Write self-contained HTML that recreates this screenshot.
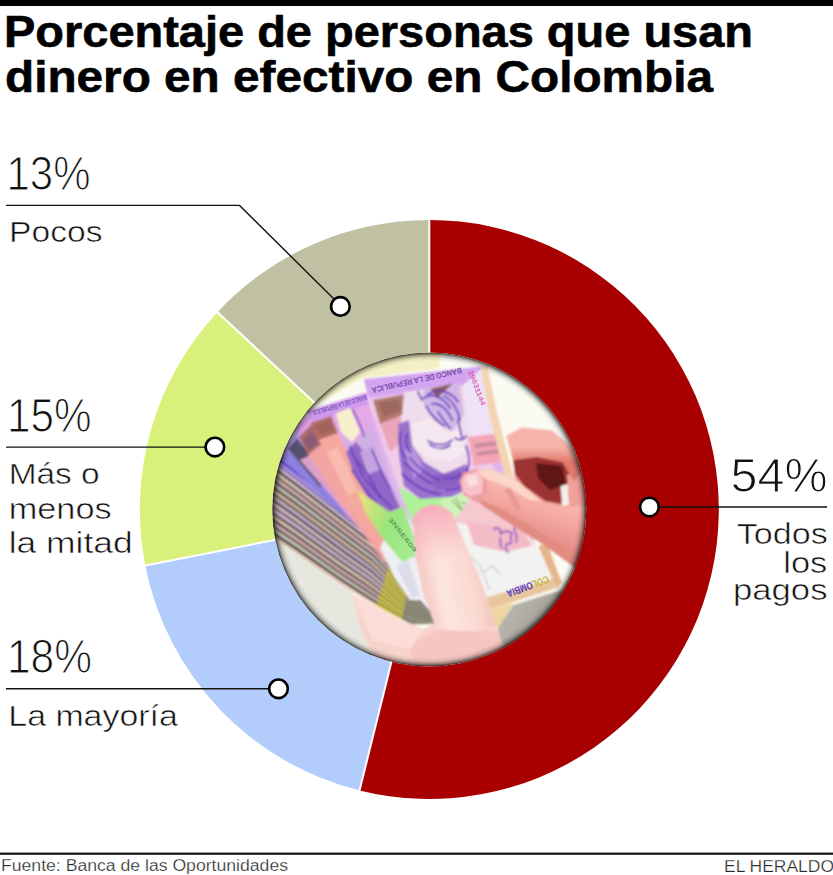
<!DOCTYPE html>
<html lang="es">
<head>
<meta charset="utf-8">
<title>Porcentaje de personas que usan dinero en efectivo en Colombia</title>
<style>
html,body{margin:0;padding:0;background:#fff;}
body{width:833px;height:875px;overflow:hidden;}
svg{display:block;}
text{font-family:"Liberation Sans",sans-serif;fill:#111;}
.t{font-weight:bold;font-size:44.5px;fill:#000;stroke:#000;stroke-width:.6px;}
.n{font-size:48px;stroke:#fff;stroke-width:1.1px;}
.l{font-size:30px;stroke:#fff;stroke-width:.55px;}
.f{font-size:16px;fill:#2a2a2a;stroke:#fff;stroke-width:.25px;}
.ld{stroke:#111;stroke-width:1.4;fill:none;}
.mk{fill:#fff;stroke:#000;stroke-width:2.6;}
</style>
</head>
<body>
<svg width="833" height="875" viewBox="0 0 833 875">
<rect width="833" height="875" fill="#fff"/>
<!-- top bar -->
<rect x="0" y="0" width="833" height="6" fill="#000"/>
<!-- title -->
<text class="t" x="4" y="46.8" textLength="749" lengthAdjust="spacingAndGlyphs">Porcentaje de personas que usan</text>
<text class="t" x="5" y="91.8" textLength="708" lengthAdjust="spacingAndGlyphs">dinero en efectivo en Colombia</text>
<!-- donut -->
<g id="donut">
<path d="M429.3,509.5 L429.30,220.00 A289.5,289.5 0 1 1 359.51,790.46 Z" fill="#a80000"/>
<path d="M429.3,509.5 L359.51,790.46 A289.5,289.5 0 0 1 145.26,565.48 Z" fill="#b2ccfc"/>
<path d="M429.3,509.5 L145.26,565.48 A289.5,289.5 0 0 1 217.40,312.25 Z" fill="#d9f17b"/>
<path d="M429.3,509.5 L217.40,312.25 A289.5,289.5 0 0 1 429.30,220.00 Z" fill="#c0c0a2"/>
<g stroke="#fff" stroke-width="2">
<line x1="429.3" y1="509.5" x2="429.30" y2="219.00"/>
<line x1="429.3" y1="509.5" x2="359.27" y2="791.43"/>
<line x1="429.3" y1="509.5" x2="144.28" y2="565.68"/>
<line x1="429.3" y1="509.5" x2="216.67" y2="311.56"/>
</g>
</g>
<defs>
<clipPath id="pc"><circle cx="429.3" cy="509.5" r="157.0"/></clipPath>
<filter id="b1" x="-5%" y="-5%" width="110%" height="110%"><feGaussianBlur stdDeviation="1.1"/></filter>
<filter id="b3" x="-30%" y="-30%" width="160%" height="160%"><feGaussianBlur stdDeviation="3"/></filter>
<radialGradient id="vg" gradientUnits="userSpaceOnUse" cx="429.3" cy="509.5" r="157.0"><stop offset="0" stop-color="#000" stop-opacity="0"/><stop offset="0.945" stop-color="#000" stop-opacity="0"/><stop offset="0.966" stop-color="#000" stop-opacity="0.1"/><stop offset="0.984" stop-color="#000" stop-opacity="0.36"/><stop offset="1" stop-color="#000" stop-opacity="0.8"/></radialGradient>
<linearGradient id="gth" gradientUnits="userSpaceOnUse" x1="412" y1="560" x2="490" y2="545"><stop offset="0" stop-color="#f4c0bc"/><stop offset="0.3" stop-color="#fde6e0"/><stop offset="0.7" stop-color="#fad8d0"/><stop offset="1" stop-color="#f0b8b0"/></linearGradient><linearGradient id="gtt" gradientUnits="userSpaceOnUse" x1="430" y1="505" x2="445" y2="560"><stop offset="0" stop-color="#f6a8b8" stop-opacity="0.95"/><stop offset="0.55" stop-color="#f8b8c0" stop-opacity="0.6"/><stop offset="1" stop-color="#f8c0c0" stop-opacity="0"/></linearGradient>
<linearGradient id="gf1" gradientUnits="userSpaceOnUse" x1="520" y1="470" x2="500" y2="530"><stop offset="0" stop-color="#fbc8c0"/><stop offset="0.5" stop-color="#f5aaa2"/><stop offset="1" stop-color="#e58a88"/></linearGradient>
<linearGradient id="gf2" gradientUnits="userSpaceOnUse" x1="540" y1="425" x2="540" y2="462"><stop offset="0" stop-color="#f8b4ac"/><stop offset="0.6" stop-color="#f7b4a8"/><stop offset="1" stop-color="#e0796c"/></linearGradient>
<linearGradient id="ggr" gradientUnits="userSpaceOnUse" x1="360" y1="500" x2="430" y2="540"><stop offset="0" stop-color="#e6e27a"/><stop offset="0.45" stop-color="#9be57c"/><stop offset="1" stop-color="#a8ee98"/></linearGradient>
<linearGradient id="gsh" gradientUnits="userSpaceOnUse" x1="510" y1="600" x2="570" y2="640"><stop offset="0" stop-color="#b9b7ae"/><stop offset="1" stop-color="#96948c"/></linearGradient>
</defs>
<g clip-path="url(#pc)">
<g filter="url(#b1)">
<rect x="268" y="348" width="324" height="324" fill="#fcfbf3"/>
<polygon points="270.0,350.0 440.0,350.0 440.0,368.0 363.0,378.0 306.0,410.0 292.0,430.0 283.0,449.0 270.0,470.0" fill="#f4efc4"/>
<polygon points="268.0,530.0 352.0,592.0 362.0,628.0 392.0,674.0 268.0,674.0" fill="#e7e7e0"/>
<polygon points="272.0,452.0 298.8,472.2 325.1,492.9 351.5,513.6 377.8,534.4 397.8,560.2 412.3,590.4 434.0,616.0 434.2,616.3 412.3,591.9 397.3,562.5 377.2,537.1 350.9,516.6 324.7,496.1 298.5,475.6 271.9,455.6" fill="#4e4946"/>
<polygon points="271.9,455.6 298.5,475.6 324.7,496.1 350.9,516.6 377.2,537.1 397.3,562.5 412.3,591.9 434.2,616.3 434.3,616.6 412.3,593.0 396.9,564.2 376.6,539.3 350.5,519.0 324.4,498.6 298.3,478.2 271.8,458.5" fill="#dfbccf"/>
<polygon points="271.8,458.5 298.3,478.2 324.4,498.6 350.5,519.0 376.6,539.3 396.9,564.2 412.3,593.0 434.3,616.6 434.5,617.0 412.3,594.5 396.5,566.5 376.0,542.0 350.0,521.9 324.1,501.8 298.1,481.6 271.8,462.1" fill="#655b55"/>
<polygon points="271.8,462.1 298.1,481.6 324.1,501.8 350.0,521.9 376.0,542.0 396.5,566.5 412.3,594.5 434.5,617.0 434.6,617.2 412.2,595.7 396.1,568.2 375.5,544.2 349.6,524.3 323.8,504.3 297.9,484.3 271.7,464.9" fill="#cfb6d8"/>
<polygon points="271.7,464.9 297.9,484.3 323.8,504.3 349.6,524.3 375.5,544.2 396.1,568.2 412.2,595.7 434.6,617.2 434.8,617.6 412.2,597.1 395.6,570.5 374.9,546.9 349.1,527.3 323.4,507.5 297.7,487.7 271.6,468.5" fill="#454240"/>
<polygon points="271.6,468.5 297.7,487.7 323.4,507.5 349.1,527.3 374.9,546.9 395.6,570.5 412.2,597.1 434.8,617.6 434.9,617.8 412.2,598.3 395.2,572.2 374.3,549.0 348.7,529.6 323.1,510.0 297.5,490.4 271.5,471.4" fill="#e0c8ba"/>
<polygon points="271.5,471.4 297.5,490.4 323.1,510.0 348.7,529.6 374.3,549.0 395.2,572.2 412.2,598.3 434.9,617.8 435.1,618.2 412.2,599.8 394.8,574.4 373.7,551.8 348.1,532.6 322.7,513.2 297.3,493.8 271.5,475.0" fill="#6d6157"/>
<polygon points="271.5,475.0 297.3,493.8 322.7,513.2 348.1,532.6 373.7,551.8 394.8,574.4 412.2,599.8 435.1,618.2 435.2,618.5 412.1,600.9 394.4,576.2 373.2,553.9 347.7,534.9 322.4,515.7 297.1,496.5 271.4,477.8" fill="#d8acb6"/>
<polygon points="271.4,477.8 297.1,496.5 322.4,515.7 347.7,534.9 373.2,553.9 394.4,576.2 412.1,600.9 435.2,618.5 435.4,618.8 412.1,602.4 393.9,578.4 372.6,556.7 347.2,537.9 322.1,518.9 296.9,499.9 271.3,481.5" fill="#544d4a"/>
<polygon points="271.3,481.5 296.9,499.9 322.1,518.9 347.2,537.9 372.6,556.7 393.9,578.4 412.1,602.4 435.4,618.8 435.5,619.1 412.1,603.6 393.6,580.2 372.0,558.8 346.8,540.3 321.8,521.4 296.7,502.5 271.2,484.3" fill="#d0c9be"/>
<polygon points="271.2,484.3 296.7,502.5 321.8,521.4 346.8,540.3 372.0,558.8 393.6,580.2 412.1,603.6 435.5,619.1 435.7,619.4 412.1,605.1 393.1,582.4 371.4,561.6 346.3,543.2 321.4,524.6 296.5,505.9 271.1,487.9" fill="#4e4946"/>
<polygon points="271.1,487.9 296.5,505.9 321.4,524.6 346.3,543.2 371.4,561.6 393.1,582.4 412.1,605.1 435.7,619.4 435.8,619.7 412.0,606.2 392.7,584.2 370.9,563.7 345.9,545.6 321.1,527.1 296.3,508.6 271.1,490.8" fill="#dcbaa4"/>
<polygon points="271.1,490.8 296.3,508.6 321.1,527.1 345.9,545.6 370.9,563.7 392.7,584.2 412.0,606.2 435.8,619.7 436.0,620.0 412.0,607.7 392.3,586.4 370.3,566.4 345.4,548.6 320.7,530.3 296.1,512.0 271.0,494.4" fill="#655b55"/>
<polygon points="271.0,494.4 296.1,512.0 320.7,530.3 345.4,548.6 370.3,566.4 392.3,586.4 412.0,607.7 436.0,620.0 436.2,620.3 412.0,608.8 391.9,588.2 369.7,568.6 344.9,550.9 320.4,532.8 295.9,514.7 270.9,497.2" fill="#cbb0d2"/>
<polygon points="270.9,497.2 295.9,514.7 320.4,532.8 344.9,550.9 369.7,568.6 391.9,588.2 412.0,608.8 436.2,620.3 436.3,620.7 412.0,610.3 391.4,590.4 369.1,571.3 344.4,553.9 320.0,536.0 295.7,518.1 270.8,500.8" fill="#454240"/>
<polygon points="270.8,500.8 295.7,518.1 320.0,536.0 344.4,553.9 369.1,571.3 391.4,590.4 412.0,610.3 436.3,620.7 436.5,620.9 411.9,611.5 391.1,592.2 368.6,573.5 344.0,556.2 319.7,538.5 295.5,520.7 270.8,503.7" fill="#dfbccf"/>
<polygon points="270.8,503.7 295.5,520.7 319.7,538.5 344.0,556.2 368.6,573.5 391.1,592.2 411.9,611.5 436.5,620.9 436.6,621.3 411.9,613.0 390.6,594.4 368.0,576.2 343.5,559.2 319.4,541.7 295.3,524.1 270.7,507.3" fill="#6d6157"/>
<polygon points="270.7,507.3 295.3,524.1 319.4,541.7 343.5,559.2 368.0,576.2 390.6,594.4 411.9,613.0 436.6,621.3 436.8,621.5 411.9,614.1 390.2,596.2 367.5,578.4 343.1,561.6 319.1,544.2 295.1,526.8 270.6,510.2" fill="#cfb6d8"/>
<polygon points="270.6,510.2 295.1,526.8 319.1,544.2 343.1,561.6 367.5,578.4 390.2,596.2 411.9,614.1 436.8,621.5 436.9,621.9 411.9,615.6 389.8,598.4 366.8,581.1 342.6,564.5 318.7,547.4 294.8,530.2 270.5,513.8" fill="#544d4a"/>
<polygon points="270.5,513.8 294.8,530.2 318.7,547.4 342.6,564.5 366.8,581.1 389.8,598.4 411.9,615.6 436.9,621.9 437.1,622.2 411.8,616.7 389.4,600.2 366.3,583.2 342.1,566.9 318.4,549.9 294.7,532.9 270.5,516.6" fill="#e0c8ba"/>
<polygon points="270.5,516.6 294.7,532.9 318.4,549.9 342.1,566.9 366.3,583.2 389.4,600.2 411.8,616.7 437.1,622.2 437.2,622.5 411.8,618.2 388.9,602.4 365.7,586.0 341.6,569.9 318.0,553.1 294.4,536.3 270.4,520.2" fill="#4e4946"/>
<polygon points="270.4,520.2 294.4,536.3 318.0,553.1 341.6,569.9 365.7,586.0 388.9,602.4 411.8,618.2 437.2,622.5 437.4,622.8 411.8,619.4 388.5,604.2 365.2,588.1 341.2,572.2 317.7,555.6 294.3,538.9 270.3,523.1" fill="#d8acb6"/>
<polygon points="270.3,523.1 294.3,538.9 317.7,555.6 341.2,572.2 365.2,588.1 388.5,604.2 411.8,619.4 437.4,622.8 437.6,623.1 411.8,620.9 388.1,606.4 364.5,590.9 340.7,575.2 317.4,558.8 294.0,542.3 270.2,526.7" fill="#655b55"/>
<polygon points="270.2,526.7 294.0,542.3 317.4,558.8 340.7,575.2 364.5,590.9 388.1,606.4 411.8,620.9 437.6,623.1 437.7,623.4 411.7,622.0 387.7,608.1 364.0,593.0 340.3,577.5 317.1,561.3 293.9,545.0 270.2,529.5" fill="#d0c9be"/>
<polygon points="270.2,529.5 293.9,545.0 317.1,561.3 340.3,577.5 364.0,593.0 387.7,608.1 411.7,622.0 437.7,623.4 437.9,623.7 411.7,623.5 387.2,610.4 363.4,595.8 339.8,580.5 316.7,564.5 293.6,548.4 270.1,533.2" fill="#454240"/>
<polygon points="270.1,533.2 293.6,548.4 316.7,564.5 339.8,580.5 363.4,595.8 387.2,610.4 411.7,623.5 437.9,623.7 438.0,624.0 411.7,624.6 386.9,612.1 362.9,597.9 339.4,582.8 316.4,567.0 293.4,551.1 270.0,536.0" fill="#dcbaa4"/>
<polygon points="272.0,452.0 298.8,472.2 325.1,492.9 351.5,513.6 377.8,534.4 397.8,560.2 412.3,590.4 434.0,616.0 434.2,616.4 412.3,592.0 397.3,562.6 377.1,537.3 350.9,516.8 324.7,496.3 298.5,475.8 271.9,455.9" fill="#3a34b8"/>
<polygon points="271.9,455.9 298.5,475.8 324.7,496.3 350.9,516.8 377.1,537.3 397.3,562.6 412.3,592.0 434.2,616.4 434.4,616.8 412.3,593.8 396.7,565.4 376.3,540.7 350.2,520.6 324.2,500.3 298.2,480.1 271.8,460.4" fill="#a58ae6"/>
<polygon points="391.5,557.8 408.8,587.1 408.6,588.3 390.9,559.6" fill="#8e8a44"/>
<polygon points="390.9,559.6 408.6,588.3 408.2,589.8 390.2,561.8" fill="#d8cc50"/>
<polygon points="390.2,561.8 408.2,589.8 408.0,591.0 389.6,563.6" fill="#7f7a3a"/>
<polygon points="389.6,563.6 408.0,591.0 407.7,592.5 388.9,565.8" fill="#e4d648"/>
<polygon points="388.9,565.8 407.7,592.5 407.4,593.7 388.3,567.6" fill="#8e8a44"/>
<polygon points="388.3,567.6 407.4,593.7 407.1,595.2 387.6,569.8" fill="#d8cc50"/>
<polygon points="387.6,569.8 407.1,595.2 406.8,596.4 387.1,571.6" fill="#7f7a3a"/>
<polygon points="387.1,571.6 406.8,596.4 406.5,597.9 386.3,573.8" fill="#e4d648"/>
<polygon points="386.3,573.8 406.5,597.9 406.2,599.2 385.8,575.6" fill="#8e8a44"/>
<polygon points="385.8,575.6 406.2,599.2 405.9,600.7 385.1,577.8" fill="#d8cc50"/>
<polygon points="385.1,577.8 405.9,600.7 405.6,601.9 384.5,579.6" fill="#7f7a3a"/>
<polygon points="384.5,579.6 405.6,601.9 405.3,603.4 383.8,581.7" fill="#e4d648"/>
<polygon points="383.8,581.7 405.3,603.4 405.0,604.6 383.2,583.5" fill="#8e8a44"/>
<polygon points="383.2,583.5 405.0,604.6 404.7,606.1 382.5,585.7" fill="#d8cc50"/>
<polygon points="382.5,585.7 404.7,606.1 404.4,607.3 381.9,587.5" fill="#7f7a3a"/>
<polygon points="381.9,587.5 404.4,607.3 404.1,608.8 381.2,589.7" fill="#e4d648"/>
<polygon points="381.2,589.7 404.1,608.8 403.9,610.0 380.6,591.5" fill="#8e8a44"/>
<polygon points="380.6,591.5 403.9,610.0 403.5,611.5 379.9,593.7" fill="#d8cc50"/>
<polygon points="379.9,593.7 403.5,611.5 403.3,612.7 379.3,595.5" fill="#7f7a3a"/>
<polygon points="379.3,595.5 403.3,612.7 402.9,614.2 378.6,597.7" fill="#e4d648"/>
<polygon points="378.6,597.7 402.9,614.2 402.7,615.4 378.1,599.5" fill="#8e8a44"/>
<polygon points="378.1,599.5 402.7,615.4 402.4,616.9 377.3,601.7" fill="#d8cc50"/>
<polygon points="377.3,601.7 402.4,616.9 402.1,618.2 376.8,603.5" fill="#7f7a3a"/>
<polygon points="376.8,603.5 402.1,618.2 401.8,619.6 376.1,605.7" fill="#e4d648"/>
<polygon points="408.8,587.1 412.3,593.0 434.3,616.6 434.5,617.0 412.3,594.5 408.5,588.6" fill="#64644f"/>
<polygon points="408.5,588.6 412.3,594.5 434.5,617.0 434.6,617.2 412.2,595.7 408.2,589.8" fill="#a9a68c"/>
<polygon points="408.2,589.8 412.2,595.7 434.6,617.2 434.8,617.6 412.2,597.1 407.9,591.3" fill="#55564a"/>
<polygon points="407.9,591.3 412.2,597.1 434.8,617.6 434.9,617.8 412.2,598.3 407.7,592.5" fill="#b9b79a"/>
<polygon points="407.7,592.5 412.2,598.3 434.9,617.8 435.1,618.2 412.2,599.8 407.3,594.0" fill="#64644f"/>
<polygon points="407.3,594.0 412.2,599.8 435.1,618.2 435.2,618.5 412.1,600.9 407.1,595.2" fill="#a9a68c"/>
<polygon points="407.1,595.2 412.1,600.9 435.2,618.5 435.4,618.8 412.1,602.4 406.7,596.7" fill="#55564a"/>
<polygon points="406.7,596.7 412.1,602.4 435.4,618.8 435.5,619.1 412.1,603.6 406.5,597.9" fill="#b9b79a"/>
<polygon points="406.5,597.9 412.1,603.6 435.5,619.1 435.7,619.4 412.1,605.0 406.2,599.4" fill="#64644f"/>
<polygon points="406.2,599.4 412.1,605.0 435.7,619.4 435.8,619.7 412.0,606.2 405.9,600.7" fill="#a9a68c"/>
<polygon points="405.9,600.7 412.0,606.2 435.8,619.7 436.0,620.0 412.0,607.7 405.6,602.1" fill="#55564a"/>
<polygon points="405.6,602.1 412.0,607.7 436.0,620.0 436.2,620.3 412.0,608.8 405.3,603.4" fill="#b9b79a"/>
<polygon points="405.3,603.4 412.0,608.8 436.2,620.3 436.3,620.6 412.0,610.3 405.0,604.9" fill="#64644f"/>
<polygon points="405.0,604.9 412.0,610.3 436.3,620.6 436.5,620.9 411.9,611.5 404.7,606.1" fill="#a9a68c"/>
<polygon points="404.7,606.1 411.9,611.5 436.5,620.9 436.6,621.3 411.9,612.9 404.4,607.6" fill="#55564a"/>
<polygon points="404.4,607.6 411.9,612.9 436.6,621.3 436.8,621.5 411.9,614.1 404.1,608.8" fill="#b9b79a"/>
<polygon points="404.1,608.8 411.9,614.1 436.8,621.5 436.9,621.9 411.9,615.6 403.8,610.3" fill="#64644f"/>
<polygon points="403.8,610.3 411.9,615.6 436.9,621.9 437.1,622.2 411.8,616.7 403.5,611.5" fill="#a9a68c"/>
<polygon points="403.5,611.5 411.8,616.7 437.1,622.2 437.2,622.5 411.8,618.2 403.2,613.0" fill="#55564a"/>
<polygon points="403.2,613.0 411.8,618.2 437.2,622.5 437.4,622.8 411.8,619.4 402.9,614.2" fill="#b9b79a"/>
<polygon points="402.9,614.2 411.8,619.4 437.4,622.8 437.6,623.1 411.8,620.8 402.6,615.7" fill="#64644f"/>
<polygon points="402.6,615.7 411.8,620.8 437.6,623.1 437.7,623.4 411.7,622.0 402.4,616.9" fill="#a9a68c"/>
<polygon points="402.4,616.9 411.7,622.0 437.7,623.4 437.9,623.7 411.7,623.5 402.0,618.4" fill="#55564a"/>
<polygon points="402.0,618.4 411.7,623.5 437.9,623.7 438.0,624.0 411.7,624.6 401.8,619.6" fill="#b9b79a"/>
<polygon points="276.0,456.0 284.0,449.0 296.0,431.0 336.0,487.0 376.0,535.0 416.0,594.0 412.0,597.0 390.0,546.0 357.0,520.0 281.5,460.0" fill="#b29cec"/>
<polygon points="281.0,458.0 290.0,452.0 350.0,512.0 344.0,516.0" fill="#8f7fe0"/>
<polygon points="288.0,449.0 297.0,438.0 328.0,480.0 320.0,487.0" fill="#57506e"/>
<polygon points="300.0,460.0 311.0,455.0 374.0,533.0 368.0,539.0" fill="#dca0cc"/>
<polygon points="293.8,429.7 309.0,414.0 354.5,509.4 392.0,560.0 420.0,592.0 416.0,594.0 376.0,535.0 336.0,487.0" fill="#dc9fe4"/>
<polygon points="299.0,437.0 312.0,424.0 322.0,444.0 308.0,455.0" fill="#a86a68"/>
<polygon points="303.0,441.0 312.0,431.0 318.0,443.0 309.0,450.0" fill="#8c5a78"/>
<polygon points="308.0,455.0 322.0,444.0 392.0,556.0 384.0,562.0 340.0,502.0" fill="#f3a4a4"/>
<polygon points="322.0,444.0 330.0,438.0 398.0,552.0 392.0,556.0" fill="#dfb0f0"/>
<polygon points="306.7,411.0 366.0,392.5 377.6,430.7 393.0,484.5 404.5,509.4 424.0,565.0 420.0,592.0 392.0,560.0 354.5,509.4 334.0,460.0" fill="#e4aae6"/>
<polygon points="306.7,411.0 366.0,392.5 369.0,404.0 312.0,422.0" fill="#cf98ee"/>
<polygon points="311.0,423.0 331.0,416.0 338.0,433.0 319.0,440.0" fill="#b06c5e"/>
<polygon points="315.0,426.0 330.0,420.0 334.0,430.0 321.0,435.0" fill="#a0625c"/>
<polygon points="319.0,440.0 338.0,433.0 361.0,486.0 392.0,540.0 380.0,548.0 348.0,502.0" fill="#f5a89e"/>
<polygon points="327.0,452.0 338.0,447.0 357.0,490.0 349.0,496.0" fill="#f9bcb0"/>
<polygon points="392.0,540.0 380.0,548.0 396.0,566.0 408.0,560.0" fill="#f0d27c"/>
<polygon points="336.0,413.0 350.0,408.0 360.0,432.0 352.0,442.0 341.0,432.0" fill="#f8f0cc"/>
<polygon points="341.0,434.0 354.0,446.0 364.0,434.0 370.0,422.0 380.0,450.0 392.0,484.0 402.0,506.0 388.0,512.0 372.0,500.0 356.0,470.0" fill="#d2b0e6"/>
<polygon points="346.0,452.0 356.0,442.0 364.0,452.0 372.0,446.0 378.0,462.0 390.0,486.0 400.0,508.0 384.0,514.0 368.0,498.0 354.0,474.0" fill="#9166c8"/>
<polygon points="360.0,452.0 372.0,446.0 380.0,470.0 368.0,474.0" fill="#c4a4e0"/>
<g fill="none" stroke="#6a3cb8" stroke-width="1.6" stroke-linecap="round">
<path d="M353,410 C357,418 362,428 364,436 M350,446 C354,456 358,466 364,478 M358,462 C366,470 374,484 380,498 M366,480 C374,490 384,500 392,508 M372,450 C376,460 382,474 390,488 M352,470 C360,484 370,496 384,512"/>
</g>
<polygon points="357.0,490.0 372.0,500.0 390.0,512.0 404.0,506.0 418.0,512.0 420.0,540.0 416.0,556.0 402.0,562.0 384.0,540.0 366.0,514.0" fill="url(#ggr)"/>
<polygon points="384.0,540.0 402.0,562.0 416.0,556.0 420.0,575.0 426.0,600.0 410.0,600.0 396.0,580.0 380.0,548.0" fill="#eef0f4"/>
<polygon points="396.0,566.0 408.0,560.0 420.0,596.0 412.0,598.0" fill="#dcdcec"/>
<polygon points="363.8,379.2 486.8,365.8 497.0,413.0 513.7,479.0 540.0,560.0 440.0,600.0 424.0,565.0 404.5,509.4 393.0,484.5 377.6,430.7" fill="#e0b4f0"/>
<polygon points="363.8,379.2 486.8,365.8 489.5,380.0 368.0,397.0" fill="#d4a4f0"/>
<polygon points="370.0,399.0 476.0,384.0 494.0,470.0 470.0,500.0 405.0,505.0 385.0,450.0" fill="#f0cce8"/>
<polygon points="373.0,400.0 404.0,394.5 410.0,412.0 380.0,424.0" fill="#b0786a"/>
<polygon points="378.0,403.0 398.0,399.0 402.0,410.0 384.0,417.0" fill="#9c6860"/>
<polygon points="380.0,424.0 400.0,416.0 404.0,440.0 390.0,452.0" fill="#eaa6b8"/>
<polygon points="404.0,392.0 456.0,385.0 468.0,420.0 467.0,470.0 440.0,482.0 412.0,470.0 400.0,440.0" fill="#efdcec"/>
<polygon points="424.0,388.0 458.0,383.0 464.0,414.0 452.0,432.0 434.0,420.0 422.0,400.0" fill="#d2b8e8"/>
<polygon points="430.5,389.0 453.0,383.5 437.0,398.0" fill="#8a5a52"/>
<polygon points="398.0,424.0 409.0,420.0 412.0,445.0 424.0,462.0 444.0,474.0 466.0,464.0 472.0,486.0 452.0,497.0 420.0,499.0 404.0,486.0 399.0,456.0" fill="#9a72ce"/>
<polygon points="404.0,450.0 414.0,448.0 424.0,470.0 414.0,478.0" fill="#b896de"/>
<polygon points="430.0,476.0 460.0,470.0 464.0,484.0 436.0,490.0" fill="#8a60c4"/>
<polygon points="412.0,424.0 430.0,418.0 446.0,432.0 462.0,430.0 466.0,452.0 450.0,462.0 428.0,458.0 414.0,446.0" fill="#f6e8f0"/>
<g fill="none" stroke="#6c3ebc" stroke-width="1.9" stroke-linecap="round" stroke-linejoin="round">
<path d="M401,432 C398,440 400,452 406,458 M407,434 C405,442 407,450 411,452"/>
<path d="M428,441 C436,446 446,446 452,440 M430,445 C438,450 446,449 450,445 M455,438 C460,441 464,440 466,436 M458,420 L462,438"/>
<path d="M424,398 C432,392 444,398 450,408 M432,404 C440,402 448,410 452,420 M438,412 C442,418 446,424 450,428 M422,400 L418,392 M428,394 C438,388 452,392 458,402 M444,396 C452,400 458,410 460,420 M426,406 C430,414 436,420 444,426"/>
<path d="M404,462 C412,470 420,478 432,484 M402,474 C412,484 424,492 440,494 M410,458 C418,468 428,476 440,480 M444,478 C452,480 462,476 468,470 M446,490 C456,490 466,486 471,480"/>
<path d="M466,446 C470,456 470,466 466,472" stroke-width="2"/>
</g>
<polygon points="462.0,386.0 484.0,366.2 497.0,413.0 506.0,450.0 470.0,440.0" fill="#f0e2f6"/>
<polygon points="468.0,437.0 500.0,433.0 507.0,461.0 474.0,466.0" fill="#f4a6b8"/>
<polygon points="474.0,444.0 498.0,441.0 499.0,445.0 475.0,448.0" fill="#c98a9c"/>
<polygon points="476.0,452.0 500.0,449.0 501.0,453.0 477.0,456.0" fill="#c98a9c"/>
<polygon points="480.5,366.5 487.2,365.8 497.0,413.0 514.0,479.0 506.0,481.0 489.0,413.0" fill="#f4d4b0"/>
<polygon points="398.0,486.0 420.0,499.0 452.0,497.0 470.0,490.0 480.0,510.0 470.0,530.0 440.0,548.0 420.0,540.0 408.0,512.0" fill="#aef29a"/>
<polygon points="440.0,500.0 470.0,492.0 486.0,512.0 478.0,528.0 450.0,524.0" fill="#cdf4bc"/>
<g fill="none" stroke="#6f8a3a" stroke-width="1.3" opacity="0.7"><path d="M452,500 C458,506 462,512 470,516 M456,498 C460,508 468,520 476,524 M462,502 C468,506 474,512 478,520"/></g>
<polygon points="470.0,498.0 512.0,480.0 540.0,560.0 520.0,540.0 452.0,522.0 462.0,510.0" fill="#f6c8d0"/>
<polygon points="404.5,509.4 424.0,565.0 440.0,600.0 452.0,596.0 440.0,548.0 420.0,540.0" fill="#eef0f0"/>
<polygon points="452.0,522.0 526.0,533.0 558.0,582.0 480.0,606.0 466.0,580.0" fill="#f2f2f0"/>
<polygon points="466.0,521.0 524.0,531.0 532.0,546.0 505.0,552.0 474.0,545.0" fill="#f4bcc6"/>
<g fill="none" stroke="#9a60c8" stroke-width="2.2" stroke-linecap="round" opacity="0.85"><path d="M494,529 C498,526 502,530 500,534 C504,531 510,530 512,534 C508,538 514,540 510,544 C506,542 504,548 508,552 M500,538 C502,542 498,544 502,548 M514,528 C516,534 518,538 516,542"/></g>
<polygon points="481.0,599.0 556.0,577.5 560.0,587.0 485.0,611.0" fill="#e8c69c"/>
<polygon points="486.0,611.0 513.0,603.0 499.0,628.0 490.0,625.0" fill="#efd59e"/>
<polygon points="538.0,546.0 547.0,543.0 562.0,583.0 556.0,586.0" fill="#e4b58a"/>
<g fill="none" stroke="#c9c9cf" stroke-width="1.2"><polyline points="470,556 480,566 490,590"/><polyline points="484,572 492,566 500,574"/></g>
<polygon points="498.0,628.0 513.0,605.0 561.0,590.0 578.0,566.0 602.0,600.0 560.0,674.0 503.0,674.0" fill="url(#gsh)"/>
<polygon points="561.0,590.0 578.0,566.0 596.0,580.0 572.0,612.0" fill="#c9c7be"/>
<polygon points="352.0,594.0 402.0,621.0 424.0,629.0 438.0,622.0 424.5,600.0 414.9,555.0 413.0,517.0 420.0,509.0 432.0,504.5 444.0,507.0 452.0,513.0 464.0,542.0 480.0,579.0 497.0,628.0 503.0,645.0 500.0,674.0 385.0,674.0 370.0,648.0 360.0,625.0" fill="#f8d2cb"/>
<polygon points="416.0,520.0 432.0,505.0 451.0,513.0 464.0,542.0 480.0,579.0 496.0,626.0 440.0,640.0 426.0,600.0 416.0,556.0" fill="url(#gth)"/>
<polygon points="413.0,517.0 420.0,509.0 432.0,504.5 444.0,507.0 452.0,513.0 464.0,542.0 472.0,562.0 416.0,566.0 414.9,555.0" fill="url(#gtt)"/>
<polygon points="438.0,630.0 497.0,632.0 503.0,645.0 500.0,674.0 420.0,674.0 408.0,646.0" fill="#f6c6c0"/>
<polygon points="352.0,594.0 402.0,621.0 424.0,629.0 410.0,650.0 372.0,640.0" fill="#fbdcd8"/>
<polygon points="506.4,436.0 521.6,427.4 552.0,430.6 571.5,447.0 582.4,470.8 592.0,480.0 592.0,575.0 576.0,568.5 540.0,520.0 515.0,480.0 513.0,460.0" fill="#f09c94"/>
<polygon points="513.0,460.0 536.8,456.7 563.0,462.0 573.7,481.6 568.0,505.0 545.0,501.0 524.0,486.0 515.0,474.0" fill="#9c3232"/>
<polygon points="536.0,463.0 562.0,466.0 566.0,484.0 550.0,490.0 538.0,478.0" fill="#5e1717"/>
<polygon points="560.7,486.0 568.3,484.0 569.0,505.5 562.0,506.0" fill="#f6efe9"/>
<polygon points="567.0,475.0 584.6,470.0 592.0,480.0 592.0,512.0 570.0,508.0" fill="#f2a09a"/>
<polygon points="506.4,436.0 521.6,427.4 552.0,430.6 571.5,447.0 582.4,470.8 573.7,481.6 563.0,462.0 536.8,456.7 513.0,460.0" fill="url(#gf2)"/>
<polygon points="459.8,481.6 463.0,473.0 476.0,469.0 493.4,469.7 515.0,479.5 541.0,501.0 563.0,507.7 592.0,505.0 592.0,578.0 576.0,568.5 567.0,562.0 543.3,544.6 515.0,527.0 482.6,505.5 463.0,494.7" fill="url(#gf1)"/>
<polygon points="459.8,481.6 463.0,473.0 476.0,469.0 486.0,473.0 488.0,490.0 480.0,500.0 466.0,497.0" fill="#ee9ca4"/>
<polygon points="461.5,482.0 465.0,474.5 477.0,471.5 483.0,479.0 482.0,493.0 471.0,496.5 463.5,492.0" fill="#f7c2ca"/>
<polygon points="466.0,477.0 476.0,474.0 479.0,484.0 469.0,487.0" fill="#fcdee2"/>
<polygon points="482.6,505.5 515.0,527.0 543.3,544.6 567.0,562.0 576.0,568.5 592.0,578.0 592.0,564.0 562.0,546.0 532.0,527.0 502.0,509.0 480.0,500.0" fill="#e28c80"/>
<polygon points="476.0,471.0 493.4,469.7 515.0,479.5 541.0,501.0 530.0,500.0 505.0,486.0 484.0,478.0" fill="#fcd6c8"/>
<polygon points="505.0,490.0 510.0,487.0 521.0,508.0 517.0,511.0" fill="#ea9890"/>
</g>
<g font-family="Liberation Sans, sans-serif" font-weight="bold">
<text transform="translate(461,367.6) rotate(167.5)" font-size="8.2" style="fill:#7a4fb0" textLength="92" lengthAdjust="spacingAndGlyphs">BANCO DE LA REPUBLICA</text>
<text transform="translate(366,394.5) rotate(163)" font-size="7.2" style="fill:#7d55b8" textLength="56" lengthAdjust="spacingAndGlyphs">BANCO DE LA REPUBLICA</text>
<text transform="translate(468,371.5) rotate(68.6)" font-size="7" style="fill:#d24aa8" opacity="0.8" textLength="37" lengthAdjust="spacingAndGlyphs">29631144</text>
<text transform="translate(388,519.5) rotate(51.7)" font-size="6" style="fill:#3f7a44" opacity="0.7" textLength="42" lengthAdjust="spacingAndGlyphs">3NSE609</text>
<text transform="translate(547.2,575.6) rotate(160)" font-size="10.4" textLength="44" lengthAdjust="spacingAndGlyphs" style="fill:#5a40c0"><tspan style="fill:#cdb24a">COL</tspan>OMBIA</text>
</g>
<circle cx="429.3" cy="509.5" r="157.0" fill="url(#vg)"/>
</g>
<!-- leaders -->
<polyline class="ld" points="6,205.4 239.5,205.4 334,299"/>
<line class="ld" x1="6" y1="447.1" x2="205" y2="447.1"/>
<line class="ld" x1="6" y1="688.8" x2="269" y2="688.8"/>
<line class="ld" x1="659" y1="507" x2="827" y2="507"/>
<circle class="mk" cx="340.4" cy="306.4" r="9.3"/>
<circle class="mk" cx="214.9" cy="447.1" r="9.3"/>
<circle class="mk" cx="278.5" cy="688.8" r="9.3"/>
<circle class="mk" cx="649.4" cy="507" r="9.3"/>
<!-- labels -->
<text class="n" x="6.5" y="190.3" textLength="84" lengthAdjust="spacingAndGlyphs">13%</text>
<text class="l" x="9" y="242.2" textLength="93.5" lengthAdjust="spacingAndGlyphs">Pocos</text>
<text class="n" x="7" y="432" textLength="84.5" lengthAdjust="spacingAndGlyphs">15%</text>
<text class="l" x="8.7" y="484.2" textLength="91" lengthAdjust="spacingAndGlyphs">Más o</text>
<text class="l" x="8.7" y="518.8" textLength="103" lengthAdjust="spacingAndGlyphs">menos</text>
<text class="l" x="8.7" y="552.7" textLength="124" lengthAdjust="spacingAndGlyphs">la mitad</text>
<text class="n" x="7" y="672.8" textLength="85" lengthAdjust="spacingAndGlyphs">18%</text>
<text class="l" x="8.3" y="726.2" textLength="169.5" lengthAdjust="spacingAndGlyphs">La mayoría</text>
<text class="n" x="730.5" y="491.6" textLength="97" lengthAdjust="spacingAndGlyphs">54%</text>
<text class="l" x="736.8" y="543.8" textLength="91" lengthAdjust="spacingAndGlyphs">Todos</text>
<text class="l" x="783.3" y="572.6" textLength="44" lengthAdjust="spacingAndGlyphs">los</text>
<text class="l" x="733" y="600" textLength="94.5" lengthAdjust="spacingAndGlyphs">pagos</text>
<!-- footer -->
<rect x="0" y="852.6" width="833" height="2.2" fill="#111"/>
<text class="f" x="1" y="871" textLength="287" lengthAdjust="spacingAndGlyphs">Fuente: Banca de las Oportunidades</text>
<text class="f" x="724" y="871.5" textLength="110" lengthAdjust="spacingAndGlyphs">EL HERALDO</text>
</svg>
</body>
</html>
